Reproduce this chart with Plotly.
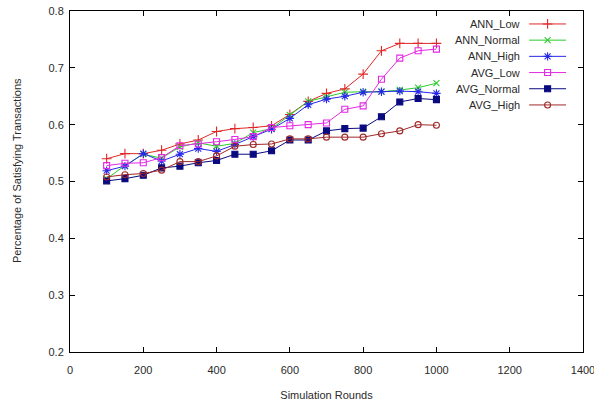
import plotly.graph_objects as go

rounds = [100, 150, 200, 250, 300, 350, 400, 450, 500, 550, 600, 650, 700, 750, 800, 850, 900, 950, 1000]

ann_low = [0.540, 0.549, 0.549, 0.555, 0.566, 0.573, 0.588, 0.593, 0.595, 0.598, 0.618, 0.641, 0.655, 0.663, 0.689, 0.730, 0.743, 0.743, 0.743]
ann_normal = [0.505, 0.528, 0.548, 0.541, 0.561, 0.568, 0.562, 0.567, 0.586, 0.593, 0.617, 0.641, 0.649, 0.657, 0.658, 0.658, 0.661, 0.665, 0.673]
ann_high = [0.519, 0.527, 0.549, 0.536, 0.548, 0.558, 0.553, 0.565, 0.579, 0.592, 0.611, 0.635, 0.645, 0.650, 0.657, 0.658, 0.659, 0.658, 0.655]
avg_low = [0.528, 0.532, 0.533, 0.542, 0.563, 0.566, 0.570, 0.574, 0.579, 0.595, 0.598, 0.600, 0.603, 0.627, 0.633, 0.680, 0.717, 0.730, 0.733]
avg_normal = [0.501, 0.505, 0.511, 0.524, 0.527, 0.533, 0.537, 0.548, 0.548, 0.554, 0.573, 0.573, 0.589, 0.593, 0.594, 0.614, 0.640, 0.646, 0.644]
avg_high = [0.508, 0.512, 0.514, 0.520, 0.535, 0.535, 0.545, 0.562, 0.565, 0.566, 0.575, 0.575, 0.578, 0.578, 0.578, 0.584, 0.589, 0.600, 0.599]

series_names = ["ANN_Low", "ANN_Normal", "ANN_High", "AVG_Low", "AVG_Normal", "AVG_High"]
series_values = [ann_low, ann_normal, ann_high, avg_low, avg_normal, avg_high]
colors = ["#e02828", "#2ccc2c", "#2828e8", "#e428e4", "#0a0a80", "#a02828"]
symbols = ["cross-thin-open", "x-thin-open", "asterisk-open", "square-open", "square", "circle-open"]
sizes = [7, 6, 7, 6, 6, 6]

x_ticks = [0, 200, 400, 600, 800, 1000, 1200, 1400]
y_ticks = [0.2, 0.3, 0.4, 0.5, 0.6, 0.7, 0.8]

FONT = "Liberation Sans, Arial, sans-serif"
TXT = "#2a2a2a"
FS = 11

fig = go.Figure()
for name, vals, c, s, sz in zip(series_names, series_values, colors, symbols, sizes):
    fig.add_trace(go.Scatter(
        x=rounds, y=vals, name=name, mode="lines+markers",
        line=dict(color=c, width=1),
        marker=dict(symbol=s, size=sz, color=c, line=dict(color=c, width=1.1)),
        showlegend=False,
    ))

# custom legend (text right-aligned, sample on the right)
leg_top = 0.962
leg_step = 0.0475
for i, (name, c, s, sz) in enumerate(zip(series_names, colors, symbols, sizes)):
    yy = leg_top - i * leg_step
    fig.add_shape(type="line", xref="paper", yref="paper", x0=0.895, x1=0.967, y0=yy, y1=yy,
                  line=dict(color=c, width=1))
    fig.add_trace(go.Scatter(
        x=[0.931], y=[yy], xaxis="x2", yaxis="y2", mode="markers",
        marker=dict(symbol=s, size=sz, color=c, line=dict(color=c, width=1.1)),
        showlegend=False, hoverinfo="skip",
    ))
    fig.add_annotation(x=0.882, y=yy, xref="paper", yref="paper", text=name,
                       showarrow=False, xanchor="right", yanchor="middle",
                       font=dict(family=FONT, size=FS, color=TXT))

fig.add_annotation(x=-0.103, y=0.531, xref="paper", yref="paper",
                   text="Percentage of Satisfying Transactions", textangle=-90,
                   showarrow=False, xanchor="center", yanchor="middle",
                   font=dict(family=FONT, size=FS, color=TXT))

axis_common = dict(showgrid=False, zeroline=False, showline=True, linecolor="black", linewidth=1,
                   mirror="ticks", ticks="inside", ticklen=5, tickcolor="black", tickwidth=1,
                   automargin=False, ticklabeloverflow="allow",
                   tickfont=dict(family=FONT, size=FS, color=TXT))

fig.update_layout(
    width=594, height=402,
    margin=dict(l=70, r=11, t=11, b=50),
    paper_bgcolor="white", plot_bgcolor="white",
    showlegend=False,
    xaxis=dict(range=[0, 1400], tickvals=x_ticks, ticktext=[str(v) for v in x_ticks],
               ticklabelstandoff=8,
               title=dict(text="Simulation Rounds", standoff=16,
                          font=dict(family=FONT, size=FS, color=TXT)),
               **axis_common),
    yaxis=dict(range=[0.2, 0.8], tickvals=y_ticks, ticktext=[f"{v:.1f}" for v in y_ticks],
               ticklabelstandoff=3, **axis_common),
    xaxis2=dict(overlaying="x", range=[0, 1], visible=False, anchor="y2"),
    yaxis2=dict(overlaying="y", range=[0, 1], visible=False, anchor="x2"),
)

fig.write_html("out.html", post_script="document.body.style.margin='0';",
               config={"displayModeBar": False})
